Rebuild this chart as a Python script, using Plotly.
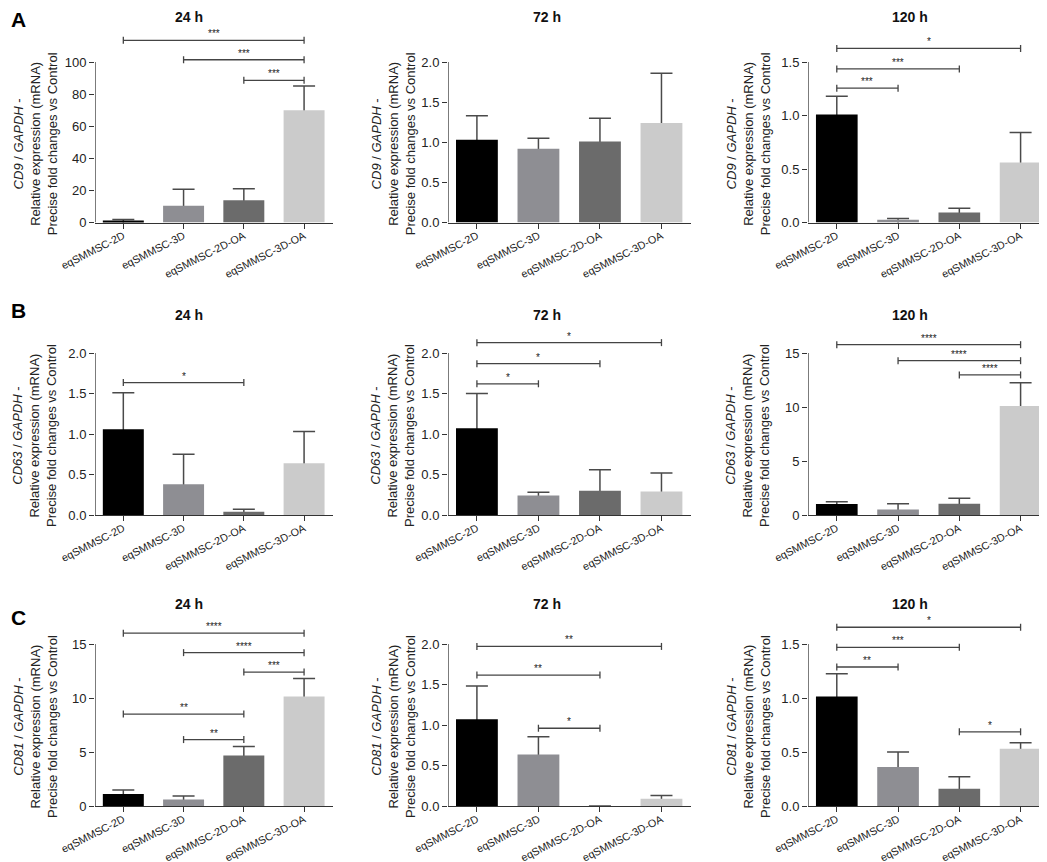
import plotly.graph_objects as go

groups = ["eqSMMSC-2D", "eqSMMSC-3D", "eqSMMSC-2D-OA", "eqSMMSC-3D-OA"]
genes = ["CD9", "CD63", "CD81"]
times = ["24 h", "72 h", "120 h"]
panel_letters = ["A", "B", "C"]

# bar heights (mean) and upper error (SD)
cd9_24h_mean = [1.2, 10.5, 13.9, 70.0]
cd9_24h_sd = [0.6, 10.2, 7.1, 15.1]
cd9_72h_mean = [1.03, 0.92, 1.01, 1.24]
cd9_72h_sd = [0.30, 0.13, 0.29, 0.62]
cd9_120h_mean = [1.01, 0.025, 0.093, 0.56]
cd9_120h_sd = [0.17, 0.012, 0.04, 0.28]

cd63_24h_mean = [1.06, 0.38, 0.04, 0.64]
cd63_24h_sd = [0.45, 0.37, 0.03, 0.39]
cd63_72h_mean = [1.07, 0.24, 0.30, 0.29]
cd63_72h_sd = [0.43, 0.04, 0.26, 0.23]
cd63_120h_mean = [1.02, 0.52, 1.05, 10.1]
cd63_120h_sd = [0.21, 0.53, 0.49, 2.15]

cd81_24h_mean = [1.1, 0.61, 4.68, 10.13]
cd81_24h_sd = [0.37, 0.31, 0.83, 1.67]
cd81_72h_mean = [1.07, 0.635, 0.0, 0.09]
cd81_72h_sd = [0.41, 0.22, 0.0, 0.04]
cd81_120h_mean = [1.015, 0.36, 0.16, 0.53]
cd81_120h_sd = [0.21, 0.14, 0.11, 0.055]

# significance brackets: (group a, group b, bracket height, stars)
cd9_24h_sig = [(2, 3, 88.6, "***"), (1, 3, 101.4, "***"), (0, 3, 113.5, "***")]
cd9_72h_sig = []
cd9_120h_sig = [(0, 1, 1.255, "***"), (0, 2, 1.435, "***"), (0, 3, 1.627, "*")]
cd63_24h_sig = [(0, 2, 1.635, "*")]
cd63_72h_sig = [(0, 1, 1.62, "*"), (0, 2, 1.868, "*"), (0, 3, 2.128, "*")]
cd63_120h_sig = [(2, 3, 12.97, "****"), (1, 3, 14.29, "****"), (0, 3, 15.77, "****")]
cd81_24h_sig = [(1, 2, 6.15, "**"), (0, 2, 8.51, "**"), (2, 3, 12.4, "***"),
                (1, 3, 14.2, "****"), (0, 3, 16.0, "****")]
cd81_72h_sig = [(1, 2, 0.96, "*"), (0, 2, 1.616, "**"), (0, 3, 1.97, "**")]
cd81_120h_sig = [(2, 3, 0.687, "*"), (0, 1, 1.287, "**"), (0, 2, 1.469, "***"), (0, 3, 1.655, "*")]

yticks_100 = [0, 20, 40, 60, 80, 100]
yticks_2 = [0, 0.5, 1.0, 1.5, 2.0]
yticks_1_5 = [0, 0.5, 1.0, 1.5]
yticks_15 = [0, 5, 10, 15]

panels = [
    [(cd9_24h_mean, cd9_24h_sd, cd9_24h_sig, yticks_100),
     (cd9_72h_mean, cd9_72h_sd, cd9_72h_sig, yticks_2),
     (cd9_120h_mean, cd9_120h_sd, cd9_120h_sig, yticks_1_5)],
    [(cd63_24h_mean, cd63_24h_sd, cd63_24h_sig, yticks_2),
     (cd63_72h_mean, cd63_72h_sd, cd63_72h_sig, yticks_2),
     (cd63_120h_mean, cd63_120h_sd, cd63_120h_sig, yticks_15)],
    [(cd81_24h_mean, cd81_24h_sd, cd81_24h_sig, yticks_15),
     (cd81_72h_mean, cd81_72h_sd, cd81_72h_sig, yticks_2),
     (cd81_120h_mean, cd81_120h_sd, cd81_120h_sig, yticks_1_5)],
]

bar_colors = ["#000000", "#8e8e93", "#6b6b6b", "#cbcbcb"]
axis_color = "#333333"
err_color = "#4a4a4a"
font_family = "Liberation Sans, Arial, sans-serif"

W, H = 1047, 862
# layout measured in pixels
col_px = [(87, 325), (440, 683), (800, 1042)]      # left/right of each plot
row_px = [(54, 214.5), (345, 507), (636, 798)]     # top tick / baseline
title_x = [181, 539, 902]
title_y = [9, 307, 596]
ytitle_x = [27, 385, 740]
letter_y = [12, 302, 609]
letter_x = 1
headroom = 32
x_range = [-0.47, 3.48]


def px_x(p):
    return p / W


def px_y(p):
    return 1 - p / H


fig = go.Figure()
layout = {}
shapes = []
annotations = []

for r in range(3):
    tick_px, base_px = row_px[r]
    for c in range(3):
        means, sds, sig, yticks = panels[r][c]
        i = r * 3 + c + 1
        xname = "x" if i == 1 else f"x{i}"
        yname = "y" if i == 1 else f"y{i}"
        xkey = "xaxis" if i == 1 else f"xaxis{i}"
        ykey = "yaxis" if i == 1 else f"yaxis{i}"
        top = yticks[-1]
        y_top = top * (base_px - tick_px + headroom) / (base_px - tick_px)
        xs = list(range(len(groups)))

        # transparent bars carrying the upward error bars, drawn first so the
        # visible bars hide the lower end of each error bar
        fig.add_trace(go.Bar(
            x=xs, y=means, xaxis=xname, yaxis=yname, width=0.68,
            marker=dict(color="rgba(0,0,0,0)", line=dict(width=0)),
            error_y=dict(type="data", symmetric=False, array=sds,
                         arrayminus=[top * 0.03] * len(sds),
                         color=err_color, thickness=1.5, width=11),
            showlegend=False, hoverinfo="skip"))
        fig.add_trace(go.Bar(
            x=xs, y=means, xaxis=xname, yaxis=yname,
            width=0.68, marker=dict(color=bar_colors, line=dict(width=0)),
            showlegend=False, hoverinfo="skip"))
        # Prism style y axis line that stops at the top tick
        fig.add_trace(go.Scatter(
            x=[x_range[0], x_range[0]], y=[0, top], xaxis=xname, yaxis=yname,
            mode="lines", line=dict(color=axis_color, width=1.3), cliponaxis=False,
            showlegend=False, hoverinfo="skip"))

        x0, x1 = col_px[c]
        layout[xkey] = dict(
            domain=[px_x(x0), px_x(x1)], range=x_range, anchor=yname, automargin=False,
            tickvals=xs, ticktext=groups, tickangle=-27, ticklabelstandoff=-3,
            ticks="outside", ticklen=5, tickwidth=1.2, tickcolor=axis_color,
            showline=True, linecolor=axis_color, linewidth=1.3,
            showgrid=False, zeroline=False, fixedrange=True,
            tickfont=dict(size=10.8, color="#222222", family=font_family))
        tickfmt = ".1f" if top <= 2 else "d"
        layout[ykey] = dict(
            domain=[px_y(base_px), px_y(tick_px - headroom)], range=[0, y_top],
            anchor=xname, automargin=False, tickvals=yticks, tickformat=tickfmt,
            ticks="outside", ticklen=5, tickwidth=1.2, tickcolor=axis_color,
            showline=False, showgrid=False, zeroline=False, fixedrange=True,
            tickfont=dict(size=13, color="#222222", family=font_family))

        for a, b, h, stars in sig:
            shapes.append(dict(type="line", xref=xname, yref=yname, x0=a, x1=b, y0=h, y1=h,
                               line=dict(color="#444444", width=1.3)))
            for xe in (a, b):
                shapes.append(dict(type="line", xref=xname, yref=yname, x0=xe, x1=xe,
                                   ysizemode="pixel", yanchor=h, y0=-3.5, y1=3.5,
                                   line=dict(color="#444444", width=1.3)))
            annotations.append(dict(x=(a + b) / 2, y=h, xref=xname, yref=yname, text=stars,
                                    showarrow=False, yanchor="bottom", yshift=-1,
                                    font=dict(size=10, color="#222222", family=font_family)))

        annotations.append(dict(
            x=px_x(title_x[c]), y=px_y(title_y[r]), xref="paper", yref="paper",
            text="<b>" + times[c] + "</b>", showarrow=False, xanchor="center", yanchor="middle",
            font=dict(size=14, color="#111111", family=font_family)))
        gene = genes[r]
        annotations.append(dict(
            x=px_x(ytitle_x[c]), y=px_y((tick_px + base_px) / 2 + 2), xref="paper", yref="paper",
            text=f"<i>{gene}</i> / <i>GAPDH</i> -<br>Relative expression (mRNA)<br>Precise fold changes vs Control",
            textangle=-90, showarrow=False, xanchor="center", yanchor="middle",
            font=dict(size=13, color="#222222", family=font_family)))

    annotations.append(dict(
        x=px_x(letter_x), y=px_y(letter_y[r]), xref="paper", yref="paper",
        text="<b>" + panel_letters[r] + "</b>", showarrow=False, xanchor="left", yanchor="middle",
        font=dict(size=21, color="#000000", family=font_family)))

fig.update_layout(
    width=W, height=H, margin=dict(l=0, r=0, t=0, b=0, autoexpand=False),
    paper_bgcolor="white", plot_bgcolor="white", barmode="overlay",
    shapes=shapes, annotations=annotations,
    font=dict(family=font_family), **layout)

fig.write_html("out.html")
